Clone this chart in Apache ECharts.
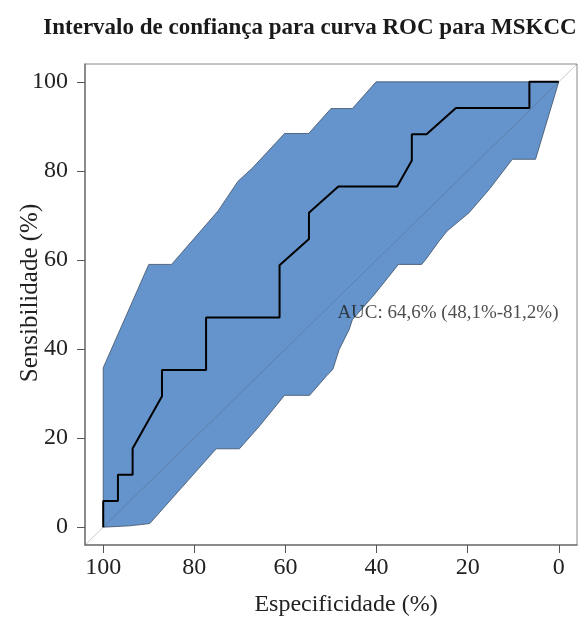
<!DOCTYPE html>
<html><head><meta charset="utf-8">
<script src="https://cdn.jsdelivr.net/npm/echarts@6/dist/echarts.min.js"></script>
<style>html,body{margin:0;padding:0;background:#fff}#c{width:578px;height:617px}</style>
</head><body><div id="c"></div>
<script>
const titleText = 'Intervalo de confiança para curva ROC para MSKCC';
const xName = 'Especificidade (%)';
const yName = 'Sensibilidade (%)';
const aucText = 'AUC: 64,6% (48,1%-81,2%)';
const specTicks = [100, 80, 60, 40, 20, 0];
const sensTicks = [0, 20, 40, 60, 80, 100];

// ROC curve (specificity %, sensitivity %)
const rocSpec = [100, 100, 96.77, 96.77, 93.55, 93.55, 87.10, 87.10, 77.42, 77.42, 61.29, 61.29, 54.84, 54.84, 48.39, 35.48, 32.26, 32.26, 29.03, 22.58, 6.45, 6.45, 0];
const rocSens = [0, 5.88, 5.88, 11.76, 11.76, 17.65, 29.41, 35.29, 35.29, 47.06, 47.06, 58.82, 64.71, 70.59, 76.47, 76.47, 82.35, 88.24, 88.24, 94.12, 94.12, 100, 100];

// Confidence band: upper boundary (left->top) and lower boundary (top-right->bottom-left)
const upperSpec = [100, 100, 90.0, 85.0, 74.8, 70.4, 67.2, 63.1, 60.2, 54.9, 50.0, 45.3, 40.1, 0];
const upperSens = [0, 35.8, 59.0, 59.0, 71.0, 77.7, 80.7, 85.2, 88.4, 88.4, 94.0, 94.0, 100, 100];
const lowerSpec = [0, 5.1, 10.2, 15.3, 19.7, 24.5, 26.3, 29.2, 30.1, 35.2, 40.5, 45.3, 46.0, 48.2, 49.6, 50.7, 54.7, 60.2, 65.7, 70.1, 75.2, 89.8, 94.2, 100];
const lowerSens = [100, 82.6, 82.6, 75.8, 70.6, 66.5, 64.2, 60.1, 59.0, 59.0, 52.2, 46.6, 44.4, 39.9, 35.4, 34.3, 29.6, 29.6, 22.7, 17.6, 17.6, 0.8, 0.3, 0];

// Reference diagonal (sens = 100 - spec) across the whole plot
const diagSpec = [104, -4];
const diagSens = [-4, 104];

const zip = (a, b) => a.map((v, i) => [v, b[i]]);
const bandPts = zip(upperSpec, upperSens).concat(zip(lowerSpec, lowerSens));

const serif = '"Liberation Serif", "DejaVu Serif", serif';
const chart = echarts.init(document.getElementById('c'), null, {renderer: 'canvas'});
chart.setOption({
  animation: false,
  backgroundColor: '#fff',
  title: {
    text: titleText, left: 305, textAlign: 'center', top: 12,
    textStyle: {fontFamily: serif, fontWeight: 'bold', fontSize: 23, color: '#1a1a1a'}
  },
  grid: {left: 85, right: 1, top: 64, bottom: 72, containLabel: false, outerBoundsMode: 'none',
    show: true, borderColor: '#8a8a8a', borderWidth: 1},
  xAxis: {
    type: 'value', inverse: true, min: -4, max: 104,
    axisLine: {show: true, onZero: false, lineStyle: {color: '#777', width: 1.5}},
    axisTick: {show: true, length: 8, customValues: specTicks, lineStyle: {color: '#555', width: 1}},
    axisLabel: {customValues: specTicks, margin: 11, fontFamily: serif, fontSize: 24, color: '#222'},
    splitLine: {show: false}
  },
  yAxis: {
    type: 'value', min: -4, max: 104,
    axisLine: {show: true, onZero: false, lineStyle: {color: '#777', width: 1.5}},
    axisTick: {show: true, length: 8, customValues: sensTicks, lineStyle: {color: '#555', width: 1}},
    axisLabel: {customValues: sensTicks, margin: 17, fontFamily: serif, fontSize: 24, color: '#222'},
    splitLine: {show: false}
  },
  graphic: [
    {type: 'text', x: 346, y: 605, style: {text: xName, font: '24px ' + serif, fill: '#222', textAlign: 'center', textVerticalAlign: 'middle'}},
    {type: 'text', x: 30, y: 293, rotation: Math.PI / 2, style: {text: yName, font: '25px ' + serif, fill: '#222', textAlign: 'center', textVerticalAlign: 'middle'}}
  ],
  series: [
    {
      type: 'custom', z: 1, clip: true,
      data: [0],
      renderItem: function (params, api) {
        const pts = bandPts.map(p => api.coord(p));
        return {type: 'polygon', shape: {points: pts},
          style: {fill: '#6594cc', stroke: '#3d4f66', lineWidth: 0.8}};
      }
    },
    {
      type: 'line', z: 2, data: zip(diagSpec, diagSens), symbol: 'none', silent: true,
      lineStyle: {color: 'rgba(70,80,100,0.3)', width: 1}
    },
    {
      type: 'line', z: 3, data: zip(rocSpec, rocSens), symbol: 'none',
      lineStyle: {color: '#000', width: 2}
    },
    {
      type: 'scatter', z: 4, data: [[48.6, 48.0]], symbolSize: 0,
      label: {show: true, position: 'right', distance: 0, formatter: aucText,
        fontFamily: serif, fontSize: 19, color: '#222'}
    }
  ]
});
</script></body></html>
